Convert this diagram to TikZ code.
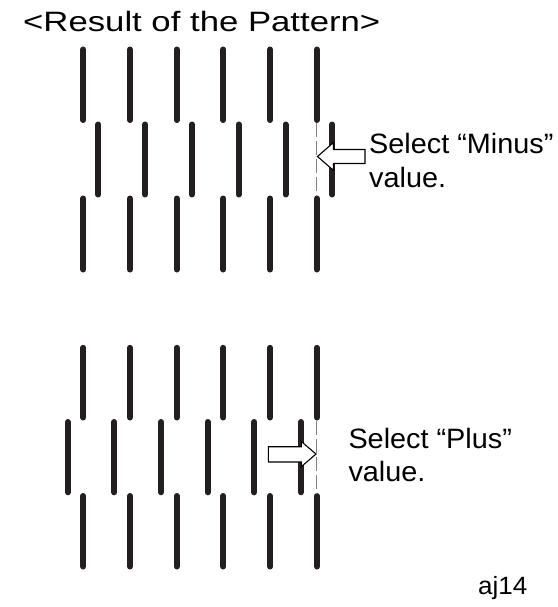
\documentclass[tikz,border=0pt]{standalone}
\usepackage{fontspec}
\setmainfont{Liberation Sans}
\begin{document}
\begin{tikzpicture}[x=1pt,y=-1pt,
  bar/.style={line width=6pt,line cap=round,draw={rgb,255:red,35;green,31;blue,32}},
  guide/.style={line width=1.2pt,draw={rgb,255:red,130;green,130;blue,130},dash pattern=on 14pt off 4pt},
  hollow/.style={draw=black,line width=1.1pt,fill=white,line join=miter},
  lbl/.style={anchor=base west,inner sep=0pt,font=\fontsize{28}{34}\selectfont}]
\useasboundingbox (0,0) rectangle (557,607);
% title
\node[lbl] (title) at (23,32) {\scalebox{1.24}[1]{<Result of the Pattern>}};
% ---------- upper pattern (Minus) ----------
\foreach \i in {0,...,5}{
  \draw[bar] ({83.3+46.7*\i},49.5) -- ({83.3+46.7*\i},120);
  \draw[bar] ({98.3+46.8*\i},124.5) -- ({98.3+46.8*\i},194.5);
  \draw[bar] ({83.3+46.7*\i},198.5) -- ({83.3+46.7*\i},269.5);
}
\coordinate (ga1) at (316.7,123);
\coordinate (gb1) at (316.7,196);
\draw[guide] (ga1) -- (gb1);
\draw[hollow] (317.5,156.5) -- (333.5,142.5) -- (333.5,149.5) -- (365,149.5)
  -- (365,163.5) -- (333.5,163.5) -- (333.5,170.5) -- cycle;
\node[lbl] (minusA) at (369,153.3) {\scalebox{1.03}[1]{Select “Minus”}};
\node[lbl] (minusB) at (369,187.5) {\scalebox{1.03}[1]{value.}};
% ---------- lower pattern (Plus) ----------
\foreach \i in {0,...,5}{
  \draw[bar] ({83.3+46.7*\i},347.8) -- ({83.3+46.7*\i},417.5);
  \draw[bar] ({67.7+46.66*\i},422) -- ({67.7+46.66*\i},492.3);
  \draw[bar] ({83.3+46.7*\i},496) -- ({83.3+46.7*\i},566.5);
}
\coordinate (ga2) at (316.7,421);
\coordinate (gb2) at (316.7,494);
\draw[guide] (ga2) -- (gb2);
\draw[hollow] (316,454) -- (301.3,441.5) -- (301.3,446.7) -- (268.3,446.7)
  -- (268.3,462) -- (301.3,462) -- (301.3,466.7) -- cycle;
\node[lbl] (plusA) at (348.3,448.3) {\scalebox{1.03}[1]{Select “Plus”}};
\node[lbl] (plusB) at (348.3,481.7) {\scalebox{1.03}[1]{value.}};
% figure code
\node[lbl,font=\fontsize{25}{28}\selectfont] (code) at (478,594) {\scalebox{1.04}[1]{aj14}};
\end{tikzpicture}
\end{document}
